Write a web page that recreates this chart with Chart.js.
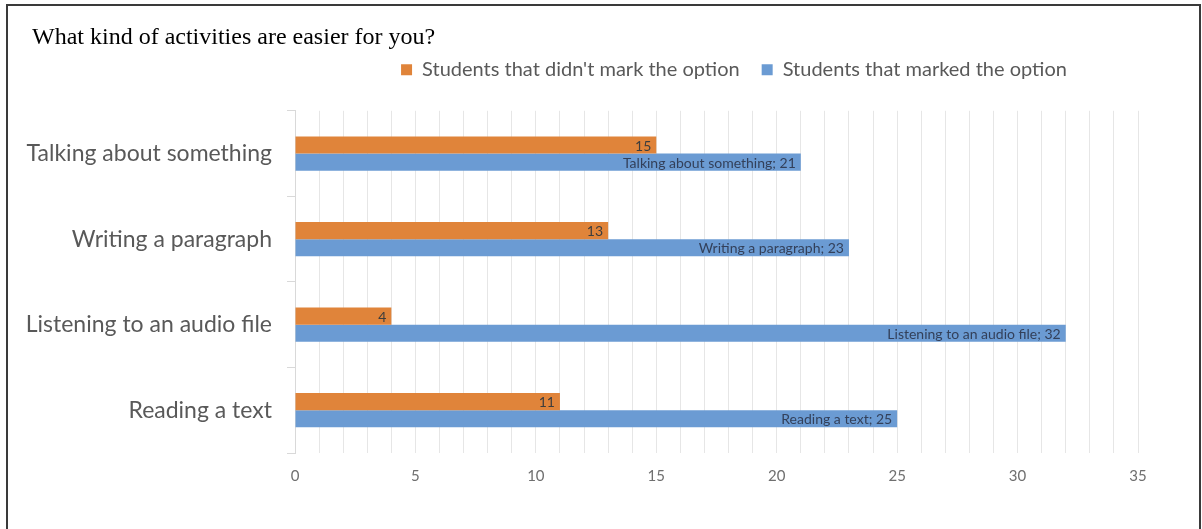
<!DOCTYPE html>
<html>
<head>
<meta charset="utf-8">
<script src="https://cdn.jsdelivr.net/npm/chart.js"></script>
<style>
  html, body { margin: 0; padding: 0; background: #fff; }
  #wrap { position: relative; width: 1202px; height: 529px; overflow: hidden; }
  #frame { position: absolute; left: 6px; top: 4px; width: 1191px; height: 540px;
           border: 2px solid #3a3a3a; border-bottom: none; pointer-events: none; }
</style>
</head>
<body>
<div id="wrap">
  <canvas id="myChart" width="1202" height="529"></canvas>
  <div id="frame"></div>
</div>
<script>
var categories = ['Talking about something', 'Writing a paragraph', 'Listening to an audio file', 'Reading a text'];
var notMarked = [15, 13, 4, 11];
var marked = [21, 23, 32, 25];
var xTickLabels = [0, 5, 10, 15, 20, 25, 30, 35];

// value labels drawn at the inner end of each bar
var barLabels = {
    id: 'barLabels',
    afterDatasetsDraw(chart) {
        var ctx = chart.ctx;
        ctx.save();
        ctx.font = '14px Lato';
        ctx.textAlign = 'right';
        ctx.textBaseline = 'middle';
        chart.data.datasets.forEach((ds, i) => {
            chart.getDatasetMeta(i).data.forEach((bar, j) => {
                var text = i == 0 ? String(ds.data[j]) : categories[j] + '; ' + ds.data[j];
                ctx.fillStyle = i == 0 ? '#3d3d3d' : '#33405a';
                ctx.fillText(text, bar.x - 5, bar.y + 1);
            });
        });
        ctx.restore();
    }
};

// a bit more room under the legend, move it right and up, and indent the title
var legendSpace = {
    id: 'legendSpace',
    beforeInit(chart) {
        var origFit = chart.legend.fit;
        chart.legend.fit = function () {
            origFit.bind(chart.legend)();
            this.height += 5;
        };
    },
    afterLayout(chart) {
        var lg = chart.legend;
        lg.left += 165;
        lg.right += 165;
        lg.top -= 16;
        lg.bottom -= 16;
        chart.titleBlock.left += 32;
        chart.titleBlock.right += 32;
    }
};

var ctx = document.getElementById('myChart').getContext('2d');
var myChart = new Chart(ctx, {
    type: 'bar',
    data: {
        labels: categories,
        datasets: [{
            label: "Students that didn't mark the option",
            data: notMarked,
            backgroundColor: '#e0843a',
            categoryPercentage: 0.4,
            barPercentage: 1.0
        }, {
            label: 'Students that marked the option',
            data: marked,
            backgroundColor: '#6b9bd3',
            categoryPercentage: 0.4,
            barPercentage: 1.0
        }]
    },
    options: {
        indexAxis: 'y',
        responsive: false,
        animation: false,
        layout: { padding: { left: 0, right: 64, bottom: 30 } },
        plugins: {
            title: {
                display: true,
                text: 'What kind of activities are easier for you?',
                align: 'start',
                color: '#000',
                font: { family: 'Liberation Serif', size: 24, weight: 'normal' },
                padding: { top: 23, bottom: 2 }
            },
            legend: {
                display: true,
                position: 'top',
                labels: {
                    boxWidth: 11,
                    boxHeight: 11,
                    padding: 22,
                    color: '#595959',
                    font: { family: 'Lato', size: 20 }
                }
            },
            tooltip: { enabled: false }
        },
        scales: {
            x: {
                min: 0,
                max: 35,
                ticks: {
                    stepSize: 1,
                    autoSkip: false,
                    maxRotation: 0,
                    padding: 14,
                    color: '#6f6f6f',
                    font: { family: 'Lato', size: 15 },
                    callback: v => xTickLabels.includes(v) ? v : ''
                },
                grid: { color: '#e6e6e6', drawTicks: false },
                border: { display: false }
            },
            y: {
                ticks: {
                    padding: 15,
                    color: '#595959',
                    font: { family: 'Lato', size: 23 }
                },
                grid: { offset: true, drawOnChartArea: false, tickLength: 8, color: '#d9d9d9' },
                border: { display: true, color: '#d9d9d9' },
                afterFit: scale => { scale.width = 295; }
            }
        }
    },
    plugins: [barLabels, legendSpace]
});
</script>
</body>
</html>
